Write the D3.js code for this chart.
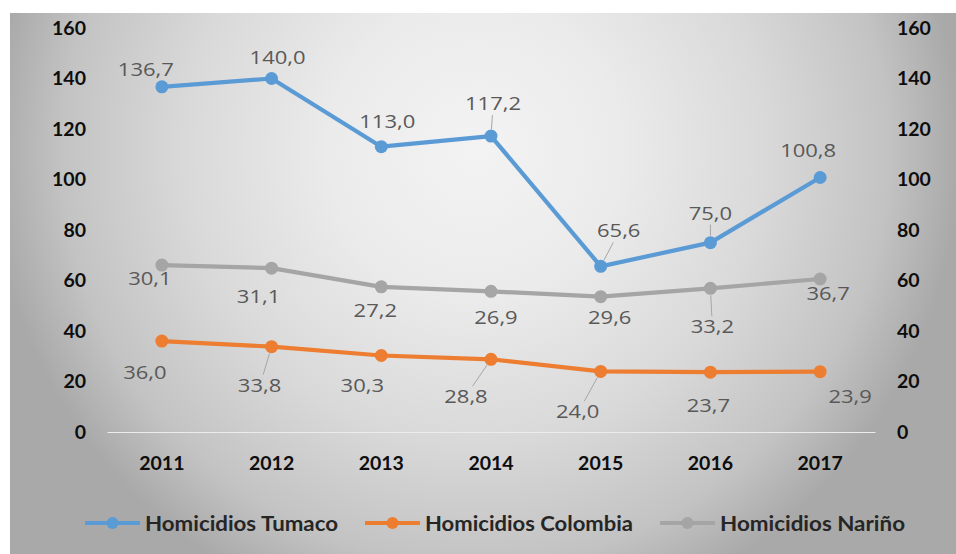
<!DOCTYPE html>
<html>
<head>
<meta charset="utf-8">
<script src="https://cdn.jsdelivr.net/npm/d3@7"></script>
<style>
  html, body { margin: 0; padding: 0; background: #ffffff; }
  svg { display: block; }
</style>
</head>
<body>
<svg id="chart" width="956" height="554"></svg>
<script>
// ---- data ----
const years = ["2011", "2012", "2013", "2014", "2015", "2016", "2017"];
const tumaco = [136.7, 140.0, 113.0, 117.2, 65.6, 75.0, 100.8];
const colombia = [36.0, 33.8, 30.3, 28.8, 24.0, 23.7, 23.9];
const narino = [30.1, 31.1, 27.2, 26.9, 29.6, 33.2, 36.7];
const yTicks = [0, 20, 40, 60, 80, 100, 120, 140, 160];
const seriesNames = ["Homicidios Tumaco", "Homicidios Colombia", "Homicidios Nariño"];

// ---- label placement (offset of label centre / baseline from its point) ----
const tumacoLabelPos = [[-16, -11], [6, -15], [6, -19], [2, -26], [18, -29], [0, -23], [-12, -20]];
const colombiaLabelPos = [[-17, 38], [-12, 45], [-19, 37], [-25, 44], [-23, 47], [-2, 40], [30, 31]];
const narinoLabelPos = [[-12, 20], [-13, 35], [-6, 30], [5, 33], [9, 27], [2, 45], [8, 21]];
const tumacoLeaders = [0, 0, 0, 1, 1, 1, 0];
const colombiaLeaders = [0, 1, 0, 1, 1, 0, 0];
const narinoLeaders = [0, 0, 0, 0, 0, 1, 0];

const colors = { tumaco: "#5B9BD5", colombia: "#ED7D31", narino: "#A5A5A5" };

const svg = d3.select("#chart");
const W = 956, H = 554;

// ---- background ----
const defs = svg.append("defs");
const grad = defs.append("radialGradient")
  .attr("id", "bg")
  .attr("gradientUnits", "userSpaceOnUse")
  .attr("cx", 475).attr("cy", 150).attr("r", 485)
  .attr("fx", 475).attr("fy", 150);
[[0, "#f3f3f3"], [0.3, "#ebebeb"], [0.6, "#d9d9d9"], [0.85, "#c3c3c3"], [1, "#a9a9a9"]]
  .forEach(([o, c]) => grad.append("stop").attr("offset", o).attr("stop-color", c));

svg.append("rect").attr("x", 10).attr("y", 13).attr("width", W - 10).attr("height", H - 13)
  .attr("fill", "url(#bg)");

// ---- scales ----
const x = d3.scaleBand().domain(years).range([107, 875]).padding(0);
const xc = d => x(d) + x.bandwidth() / 2;
const y = d3.scaleLinear().domain([0, 160]).range([432, 28]);
const y2 = d3.scaleLinear().domain([0, 160]).range([432, 28]);

// ---- axes ----
const fmtTick = d3.format("d");
const axL = svg.append("g").attr("transform", "translate(107,0)")
  .call(d3.axisLeft(y).tickValues(yTicks).tickSize(0).tickPadding(21).tickFormat(fmtTick));
const axR = svg.append("g").attr("transform", "translate(875,0)")
  .call(d3.axisRight(y2).tickValues(yTicks).tickSize(0).tickPadding(22).tickFormat(fmtTick));
[axL, axR].forEach(g => {
  g.select(".domain").remove();
  g.selectAll("text").attr("font-family", "Lato, sans-serif").attr("font-weight", "bold")
    .attr("font-size", 19.5).attr("fill", "#0d0d0d");
});

const axB = svg.append("g").attr("transform", "translate(0,432)")
  .call(d3.axisBottom(x).tickSize(0).tickPadding(24));
axB.select(".domain").attr("stroke", "#ececec").attr("stroke-width", 1.2);
axB.selectAll("text").attr("font-family", "Lato, sans-serif").attr("font-weight", "bold")
  .attr("font-size", 19.5).attr("fill", "#0d0d0d");

// ---- stacked Colombia + Nariño (primary axis) ----
const rows = years.map((yr, i) => ({ year: yr, colombia: colombia[i], narino: narino[i] }));
const stacked = d3.stack().keys(["colombia", "narino"])(rows);
const colTop = stacked[0].map(d => d[1]);
const narTop = stacked[1].map(d => d[1]);

const line = d3.line().x((d, i) => xc(years[i]));

function drawSeries(vals, scale, color) {
  svg.append("path")
    .attr("d", line.y(v => scale(v))(vals))
    .attr("fill", "none").attr("stroke", color).attr("stroke-width", 4.2)
    .attr("stroke-linejoin", "round").attr("stroke-linecap", "round");
  svg.append("g").selectAll("circle").data(vals).join("circle")
    .attr("cx", (d, i) => xc(years[i])).attr("cy", d => scale(d))
    .attr("r", 6.5).attr("fill", color);
}

drawSeries(colTop, y, colors.colombia);
drawSeries(narTop, y, colors.narino);
drawSeries(tumaco, y2, colors.tumaco);

// ---- data labels ----
const fmtVal = v => d3.format(".1f")(v).replace(".", ",");
const labelLayer = svg.append("g");

function drawLabels(values, plotted, scale, offsets, leaders) {
  values.forEach((v, i) => {
    const px = xc(years[i]), py = scale(plotted[i]);
    const lx = px + offsets[i][0], ly = py + offsets[i][1];
    const t = labelLayer.append("text")
      .attr("transform", `translate(${lx},${ly}) scale(1.25,1)`)
      .attr("text-anchor", "middle")
      .attr("font-family", "'Open Sans', sans-serif").attr("font-size", 17.6)
      .attr("fill", "#595959")
      .text(fmtVal(v));
    if (leaders[i]) {
      // leader runs from the label box edge (toward its centre) to the marker
      const w = t.node().getComputedTextLength() * 1.25;
      const above = ly < py;
      const clampX = Math.max(lx - w / 2, Math.min(lx + w / 2, px));
      const ex = lx + (clampX - lx) * 0.3;
      const ey = above ? ly + 5 : ly - 17;
      const dx = px - ex, dy = py - ey, len = Math.hypot(dx, dy);
      const r = 7;
      svg.append("line")
        .attr("x1", ex).attr("y1", ey)
        .attr("x2", px - dx / len * r).attr("y2", py - dy / len * r)
        .attr("stroke", "#a6a6a6").attr("stroke-width", 1);
    }
  });
}

drawLabels(colombia, colTop, y, colombiaLabelPos, colombiaLeaders);
drawLabels(narino, narTop, y, narinoLabelPos, narinoLeaders);
drawLabels(tumaco, tumaco, y2, tumacoLabelPos, tumacoLeaders);
labelLayer.raise();

// ---- legend ----
const legendItems = [
  { name: seriesNames[0], color: colors.tumaco, x: 85, width: 193 },
  { name: seriesNames[1], color: colors.colombia, x: 365, width: 208 },
  { name: seriesNames[2], color: colors.narino, x: 660, width: 185 }
];
const lg = svg.append("g").attr("transform", "translate(0,523)");
legendItems.forEach(it => {
  const g = lg.append("g").attr("transform", `translate(${it.x},0)`);
  g.append("line").attr("x1", 0).attr("x2", 55).attr("y1", 0).attr("y2", 0)
    .attr("stroke", it.color).attr("stroke-width", 4.2);
  g.append("circle").attr("cx", 27.5).attr("cy", 0).attr("r", 6).attr("fill", it.color);
  g.append("text").attr("x", 60).attr("y", 7.5)
    .attr("font-family", "Lato, sans-serif").attr("font-weight", "bold").attr("font-size", 20.5)
    .attr("fill", "#262626")
    .attr("textLength", it.width).attr("lengthAdjust", "spacingAndGlyphs")
    .text(it.name);
});
</script>
</body>
</html>
